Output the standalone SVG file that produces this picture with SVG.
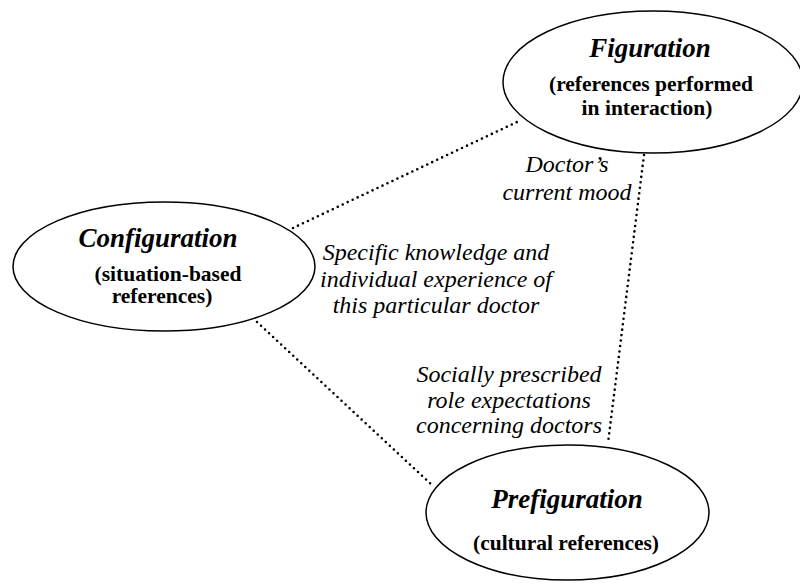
<svg xmlns="http://www.w3.org/2000/svg" width="800" height="584" viewBox="0 0 800 584">
<rect width="800" height="584" fill="#fff"/>
<g id="connectors" fill="none" stroke="#000" stroke-width="2.6" stroke-linecap="round" stroke-dasharray="0 5.5">
<line x1="293" y1="228" x2="517" y2="122"/>
<line x1="257" y1="322" x2="432" y2="485"/>
<line x1="644" y1="155" x2="608" y2="443"/>
</g>
<g id="labels" font-family="Liberation Serif" font-style="italic" font-size="24" text-anchor="middle" fill="#000">
<text x="567" y="172">Doctor’s</text>
<text x="567" y="200">current mood</text>
<text x="436" y="260">Specific knowledge and</text>
<text x="436" y="287">individual experience of</text>
<text x="436" y="313">this particular doctor</text>
<text x="509" y="382">Socially prescribed</text>
<text x="509" y="408">role expectations</text>
<text x="509" y="433">concerning doctors</text>
</g>
<g id="figuration" font-family="Liberation Serif" font-weight="bold" text-anchor="middle" fill="#000">
<ellipse cx="653" cy="82" rx="150" ry="71" fill="#fff" stroke="#000" stroke-width="1.5"/>
<text x="650" y="57" font-size="27" font-style="italic">Figuration</text>
<text x="651" y="91" font-size="21.5">(references performed</text>
<text x="647" y="115" font-size="21.5">in interaction)</text>
</g>
<g id="configuration" font-family="Liberation Serif" font-weight="bold" text-anchor="middle" fill="#000">
<ellipse cx="164" cy="266.5" rx="151" ry="64.5" fill="#fff" stroke="#000" stroke-width="1.5"/>
<text x="158" y="247" font-size="27" font-style="italic">Configuration</text>
<text x="168" y="281" font-size="21.5">(situation-based</text>
<text x="162" y="303" font-size="21.5">references)</text>
</g>
<g id="prefiguration" font-family="Liberation Serif" font-weight="bold" text-anchor="middle" fill="#000">
<ellipse cx="567.5" cy="512.5" rx="141.5" ry="67.5" fill="#fff" stroke="#000" stroke-width="1.5"/>
<text x="567" y="508" font-size="27" font-style="italic">Prefiguration</text>
<text x="566" y="550" font-size="21.5">(cultural references)</text>
</g>
</svg>
